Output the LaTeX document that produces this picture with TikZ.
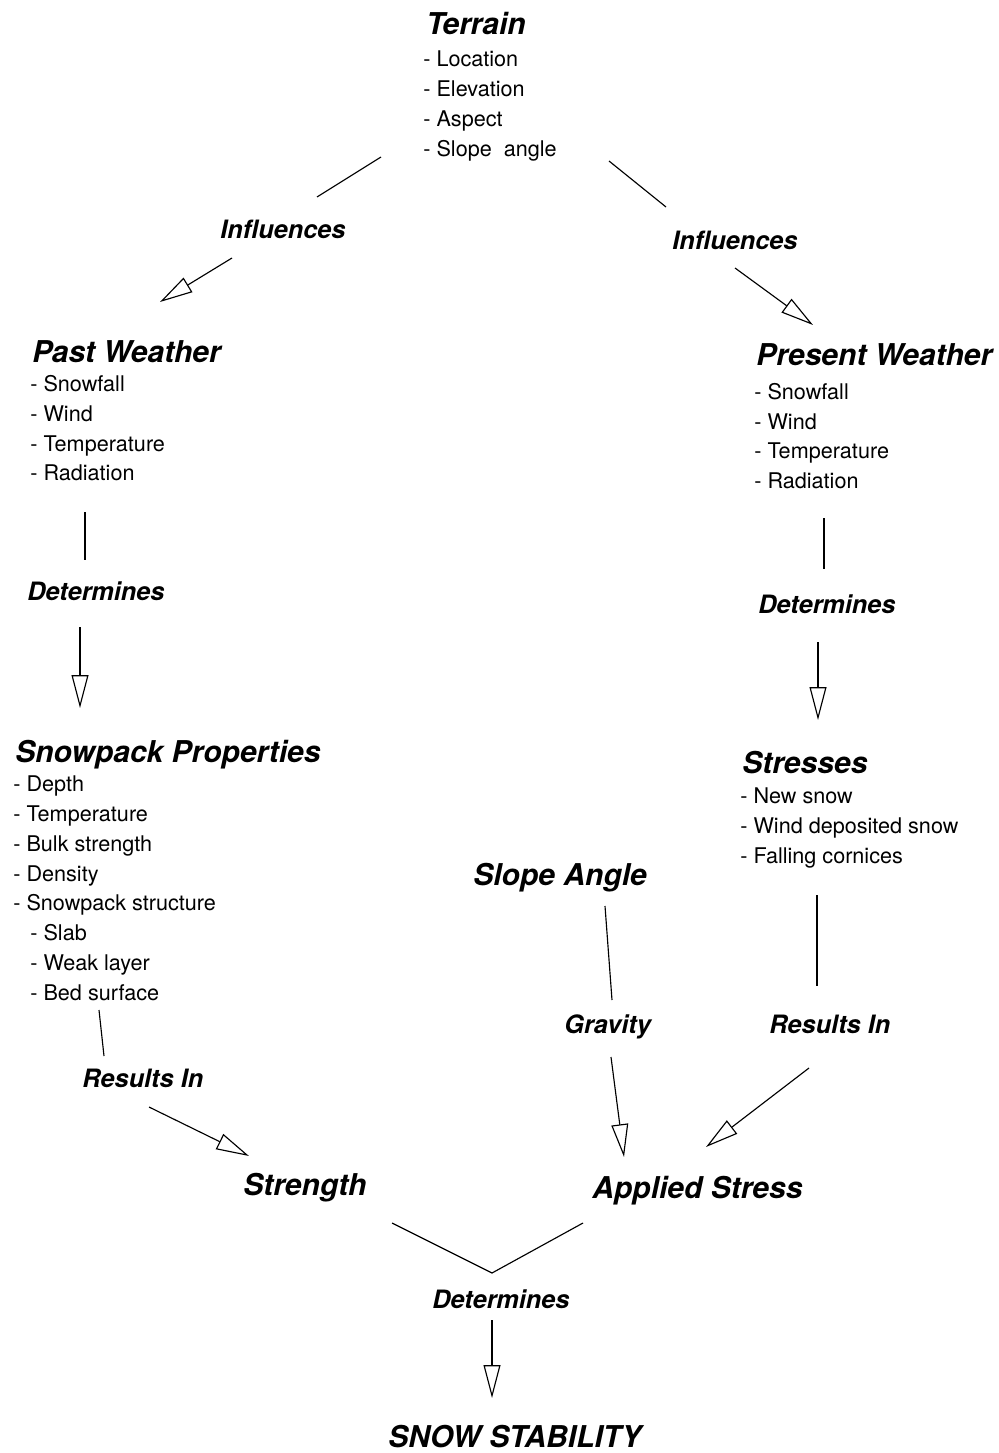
\documentclass[tikz,border=0pt]{standalone}
\usepackage{fontspec}
\setmainfont{TeX Gyre Heros}
\usetikzlibrary{arrows.meta}

\tikzset{
  head/.style={anchor=base west,inner sep=0pt,font=\fontsize{17.1}{20}\selectfont\bfseries\itshape},
  verb/.style={anchor=base west,inner sep=0pt,font=\fontsize{14.4}{17}\selectfont\bfseries\itshape},
  item/.style={anchor=base west,inner sep=0pt,font=\fontsize{12.3}{17}\selectfont},
  link/.style={line width=0.65pt},
  arr/.style={link,-{Triangle[open,length=18.7pt,width=9.6pt]}}
}

\begin{document}
\begin{tikzpicture}[x=0.02cm,y=-0.02cm]
    \useasboundingbox (0,0) rectangle (998,1453);

    % headings
    \node[head] (terrain) at (426,35) {Terrain};
    \node[head] (pastw) at (32,362) {Past Weather};
    \node[head] (presw) at (756,365) {Present Weather};
    \node[head] (snowpack) at (15,762) {Snowpack Properties};
    \node[head] (stresses) at (742,773) {Stresses};
    \node[head] (slope) at (473,885) {Slope Angle};
    \node[head] (strength) at (243,1195) {Strength};
    \node[head] (applied) at (592,1198) {Applied Stress};
    \node[head] (stability) at (388,1447) {SNOW STABILITY};

    % item lists
    \foreach \t [count=\i] in {Location,Elevation,Aspect,{Slope\ \ angle}}
      \node[item] (ter-\i) at (423,{37+30*\i}) {- \t};
    \foreach \t [count=\i] in {Snowfall,Wind,Temperature,Radiation} {
      \node[item] (pw-\i) at (30,{362+29.7*\i}) {- \t};
      \node[item] (prw-\i) at (754,{370+29.6*\i}) {- \t};
    }
    \foreach \t/\dx [count=\i] in {Depth/0,Temperature/0,Bulk strength/0,Density/0,Snowpack structure/0,Slab/17,Weak layer/17,Bed surface/17}
      \node[item] (sp-\i) at ({13+\dx},{762+29.75*\i}) {- \t};
    \foreach \t [count=\i] in {New snow,Wind deposited snow,Falling cornices}
      \node[item] (st-\i) at (740,{773+30.3*\i}) {- \t};

    % verbs on the links
    \node[verb] (infl-l) at (220,238) {Influences};
    \node[verb] (infl-r) at (672,250) {Influences};
    \node[verb] (det-l) at (27,600) {Determines};
    \node[verb] (det-r) at (758,613) {Determines};
    \node[verb] (res-l) at (82,1087) {Results In};
    \node[verb] (res-r) at (769,1033) {Results In};
    \node[verb] (grav) at (564,1033) {Gravity};
    \node[verb] (det-b) at (432,1308) {Determines};

    % link ends
    \coordinate (ter-la) at (381,157);  \coordinate (ter-lb) at (317,197);
    \coordinate (infl-la) at (232,258); \coordinate (infl-lb) at (160,302);
    \coordinate (ter-ra) at (609,161);  \coordinate (ter-rb) at (666,207);
    \coordinate (infl-ra) at (735,268); \coordinate (infl-rb) at (813,325);
    \coordinate (pw-a) at (85,512);     \coordinate (pw-b) at (85,560);
    \coordinate (det-la) at (80,627);   \coordinate (det-lb) at (80,708);
    \coordinate (prw-a) at (824,518);   \coordinate (prw-b) at (824,569);
    \coordinate (det-ra) at (818,642);  \coordinate (det-rb) at (818,720);
    \coordinate (sp-a) at (99,1010);    \coordinate (sp-b) at (104,1056);
    \coordinate (res-la) at (149,1107); \coordinate (res-lb) at (249,1156);
    \coordinate (st-a) at (817,895);    \coordinate (st-b) at (817,986);
    \coordinate (res-ra) at (809,1068); \coordinate (res-rb) at (706,1147);
    \coordinate (slope-a) at (605,906); \coordinate (slope-b) at (612,1000);
    \coordinate (grav-a) at (611,1057); \coordinate (grav-b) at (624,1157);
    \coordinate (v-l) at (392,1223);    \coordinate (v-m) at (492,1273);
    \coordinate (v-r) at (583,1223);
    \coordinate (det-ba) at (492,1320); \coordinate (det-bb) at (492,1398);

    \foreach \a/\b in {ter-la/ter-lb,ter-ra/ter-rb,pw-a/pw-b,prw-a/prw-b,sp-a/sp-b,st-a/st-b,slope-a/slope-b}
      \draw[link] (\a) -- (\b);
    \foreach \a/\b in {infl-la/infl-lb,infl-ra/infl-rb,det-la/det-lb,det-ra/det-rb,res-la/res-lb,res-ra/res-rb,grav-a/grav-b,det-ba/det-bb}
      \draw[arr] (\a) -- (\b);
    \draw[link] (v-l) -- (v-m) -- (v-r);
\end{tikzpicture}
\end{document}
